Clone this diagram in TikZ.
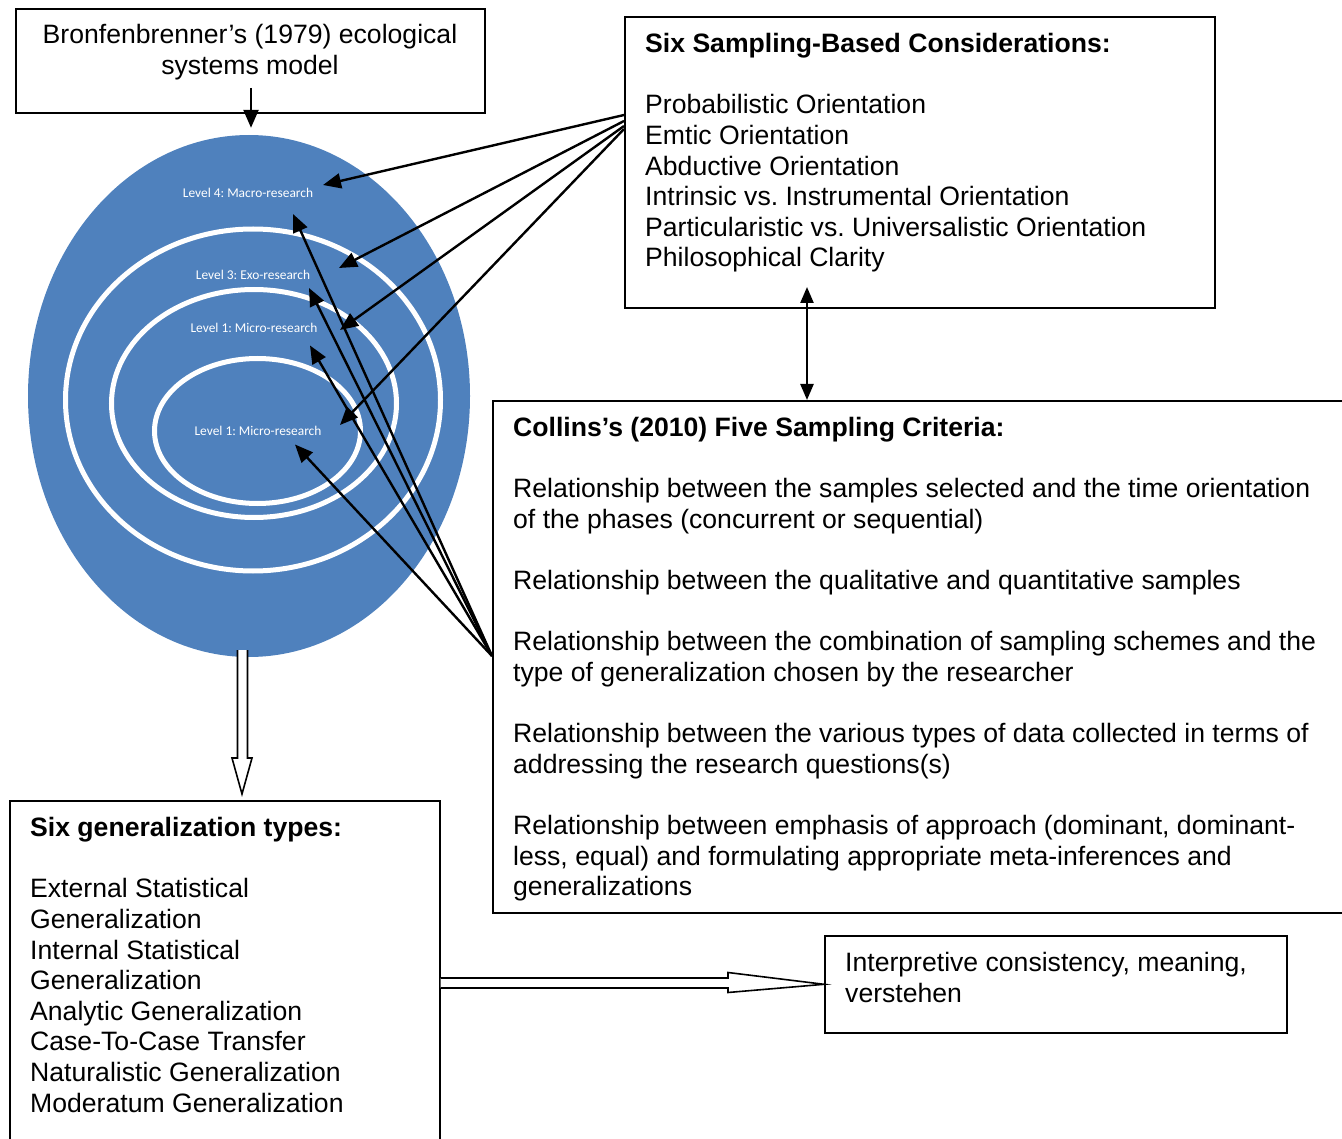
\documentclass[tikz,border=0pt]{standalone}
\usepackage{fontspec}
\setmainfont{Liberation Sans}
\newfontfamily\lvlfont{Carlito}
\usetikzlibrary{arrows.meta,calc,shapes.geometric}
\definecolor{ecoblue}{HTML}{4F81BD}
\frenchspacing
\begin{document}
\begin{tikzpicture}[x=1pt,y=-1pt,
  box/.style={draw=black,line width=1.6pt,rectangle,inner sep=0pt,anchor=north west},
  txt/.style={align=left,inner sep=0pt,anchor=north west,font=\fontsize{26.6}{30.6}\selectfont},
  lvl/.style={text=white,inner sep=0pt,font=\lvlfont\fontsize{13.4}{15}\selectfont},
  ringe/.style={ellipse,draw=white,line width=5pt,inner sep=0pt},
  arr/.style={line width=2.4pt,-{Triangle[length=18pt,width=15pt]}},
  darr/.style={line width=2.4pt,{Triangle[length=16pt,width=13pt]}-{Triangle[length=16pt,width=13pt]}},
  hollow/.style={draw=black,line width=1.6pt,fill=white,line join=miter}]
\useasboundingbox (0,0) rectangle (1342,1139);

% boxes
\node[box,minimum width=469pt,minimum height=104pt] (bron) at (15,8) {};
\node[box,minimum width=590pt,minimum height=291pt] (six) at (624,16) {};
\node[box,minimum width=870pt,minimum height=512pt] (coll) at (492,400) {};
\node[box,minimum width=430pt,minimum height=360pt] (gen) at (9,800) {};
\node[box,minimum width=462pt,minimum height=97pt] (interp) at (824,935) {};

% texts
\node[inner sep=0pt,anchor=north,align=center,font=\fontsize{26.6}{30.6}\selectfont] (bront) at (250,22)
  {\strut Bronfenbrenner’s (1979) ecological\\systems model};
\node[txt] (sixt) at (645,31) {\strut\textbf{Six Sampling-Based Considerations:}\\[30.6pt]
Probabilistic Orientation\\
Emtic Orientation\\
Abductive Orientation\\
Intrinsic vs. Instrumental Orientation\\
Particularistic vs. Universalistic Orientation\\
Philosophical Clarity};
\node[txt] (collt) at (513,415) {\strut\textbf{Collins’s (2010) Five Sampling Criteria:}\\[30.6pt]
Relationship between the samples selected and the time orientation\\
of the phases (concurrent or sequential)\\[30.6pt]
Relationship between the qualitative and quantitative samples\\[30.6pt]
Relationship between the combination of sampling schemes and the\\
type of generalization chosen by the researcher\\[30.6pt]
Relationship between the various types of data collected in terms of\\
addressing the research questions(s)\\[30.6pt]
Relationship between emphasis of approach (dominant, dominant-\\
less, equal) and formulating appropriate meta-inferences and\\
generalizations};
\node[txt] (gent) at (30,815) {\strut\textbf{Six generalization types:}\\[30.6pt]
External Statistical\\
Generalization\\
Internal Statistical\\
Generalization\\
Analytic Generalization\\
Case-To-Case Transfer\\
Naturalistic Generalization\\
Moderatum Generalization};
\node[txt] (interpt) at (845,950) {\strut Interpretive consistency, meaning,\\verstehen};

% ecological model
\node[ellipse,fill=ecoblue,inner sep=0pt,minimum width=442pt,minimum height=522pt] (eco) at (249,396) {};
\node[ringe,minimum width=375pt,minimum height=342pt] (r1) at (253,400) {};
\node[ringe,minimum width=285pt,minimum height=228pt] (r2) at (254,403.5) {};
\node[ringe,minimum width=206pt,minimum height=145pt] (r3) at (257.5,431) {};
\node[lvl] (l4) at (248,193) {Level 4: Macro-research};
\node[lvl] (l3) at (253,275) {Level 3: Exo-research};
\node[lvl] (l1a) at (254,328) {Level 1: Micro-research};
\node[lvl] (l1b) at (258,431) {Level 1: Micro-research};

% arrow from Bronfenbrenner box
\coordinate (bstart) at (251,88);
\draw[arr] (bstart) -- ($(bstart |- eco.north)+(0,-7)$);

% arrows from Six Sampling box
\coordinate (s1) at (624,115);
\coordinate (s2) at (624,121);
\coordinate (s3) at (624,126);
\coordinate (s4) at (624,129);
\coordinate (a1) at (323,185);
\coordinate (a2) at (339,268);
\coordinate (a3) at (340,330);
\coordinate (a4) at (340,425);
\draw[arr] (s1) -- (a1);
\draw[arr] (s2) -- (a2);
\draw[arr] (s3) -- (a3);
\draw[arr] (s4) -- (a4);

% arrows from Collins box
\coordinate (c0) at (492,656);
\coordinate (b1) at (293,214);
\coordinate (b2) at (309,288);
\coordinate (b3) at (310,345.5);
\coordinate (b4) at (295,444.5);
\draw[arr] (c0) -- (b1);
\draw[arr] (c0) -- (b2);
\draw[arr] (c0) -- (b3);
\draw[arr] (c0) -- (b4);

% double arrow between Six box and Collins box
\coordinate (dtop) at (807,287);
\draw[darr] (dtop) -- (dtop |- coll.north);

% hollow block arrow down
\draw[hollow] (237.5,650) -- (237.5,758) -- (232,758) -- (242,794) -- (252,758) -- (247.5,758) -- (247.5,650);
% hollow block arrow right
\draw[hollow] (gen.east |- 0,978) -- (728,978) -- (728,972.5) -- (interp.west) -- (728,992.5) -- (728,988) -- (gen.east |- 0,988);
\end{tikzpicture}
\end{document}
